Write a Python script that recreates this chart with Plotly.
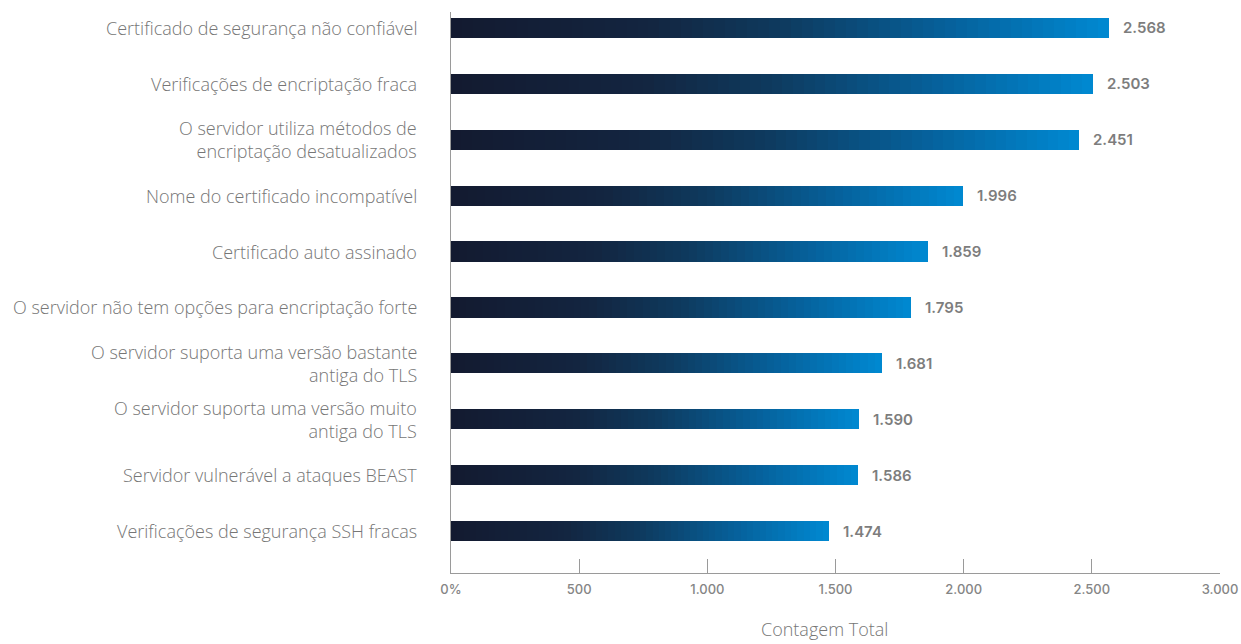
import plotly.graph_objects as go

categories = [
    "Certificado de segurança não confiável",
    "Verificações de encriptação fraca",
    "O servidor utiliza métodos de<br>encriptação desatualizados",
    "Nome do certificado incompatível",
    "Certificado auto assinado",
    "O servidor não tem opções para encriptação forte",
    "O servidor suporta uma versão bastante<br>antiga do TLS",
    "O servidor suporta uma versão muito<br>antiga do TLS",
    "Servidor vulnerável a ataques BEAST",
    "Verificações de segurança SSH fracas",
]
values = [2568, 2503, 2451, 1996, 1859, 1795, 1681, 1590, 1586, 1474]
value_labels = ["2.568", "2.503", "2.451", "1.996", "1.859", "1.795", "1.681", "1.590", "1.586", "1.474"]
x_tickvals = [0, 500, 1000, 1500, 2000, 2500, 3000]
x_ticktext = ["0%", "500", "1.000", "1.500", "2.000", "2.500", "3.000"]
axis_title = "Contagem Total"

# gradient stops (fraction of bar length, rgb)
grad_stops = [
    (0.0, (19, 26, 48)),
    (0.3, (19, 37, 64)),
    (0.5, (14, 58, 94)),
    (0.75, (6, 96, 154)),
    (1.0, (0, 137, 210)),
]


def grad_color(t):
    for (t0, c0), (t1, c1) in zip(grad_stops[:-1], grad_stops[1:]):
        if t <= t1:
            f = (t - t0) / (t1 - t0) if t1 > t0 else 0
            c = [round(a + (b - a) * f) for a, b in zip(c0, c1)]
            return "rgb({},{},{})".format(*c)
    return "rgb({},{},{})".format(*grad_stops[-1][1])


LABEL_FONT = dict(family="Open Sans", size=18, color="#767676", weight=300)

N = 60
idx = list(range(len(categories)))
fig = go.Figure()
for k in range(N):
    fig.add_trace(go.Bar(
        x=[v / N for v in values],
        y=idx,
        orientation="h",
        width=0.36,
        marker=dict(color=grad_color((k + 0.5) / N), line=dict(width=0)),
        hoverinfo="skip",
        showlegend=False,
    ))

# value labels
for i, (v, lab) in enumerate(zip(values, value_labels)):
    fig.add_annotation(
        x=v, y=i, text=lab, showarrow=False, xanchor="left", xshift=12,
        font=dict(family="Inter", size=15, color="#7d7d7d", weight=600),
    )

# category labels
for i, cat in enumerate(categories):
    fig.add_annotation(
        x=0, xref="paper", y=i, yref="y", text=cat, showarrow=False,
        xanchor="right", yanchor="middle", xshift=-33, align="right",
        font=LABEL_FONT, borderpad=0,
    )

fig.add_annotation(
    x=0.486, y=-0.1, xref="paper", yref="paper", text=axis_title,
    showarrow=False, xanchor="center", yanchor="middle",
    font=LABEL_FONT, borderpad=0,
)

fig.update_layout(
    barmode="stack",
    bargap=0,
    width=1241, height=644,
    margin=dict(l=451, r=21, t=12, b=71, autoexpand=False),
    paper_bgcolor="white", plot_bgcolor="white",
    xaxis=dict(
        range=[0, 3000], tickvals=x_tickvals, ticktext=x_ticktext,
        showgrid=False, zeroline=False, automargin=False,
        showline=True, linecolor="#9a9a9a", linewidth=1,
        ticks="inside", ticklen=14, tickcolor="#9a9a9a", tickwidth=1,
        tickfont=dict(family="Inter", size=13, color="#858585", weight=500),
        ticklabelstandoff=4,
    ),
    yaxis=dict(
        range=[9.75, -0.285], tickvals=idx, showticklabels=False,
        showgrid=False, zeroline=False, automargin=False,
        showline=True, linecolor="#9a9a9a", linewidth=1,
        ticks="",
    ),
)

fig.write_html("out.html", config={"displayModeBar": False},
               post_script="document.body.style.margin='0';")
